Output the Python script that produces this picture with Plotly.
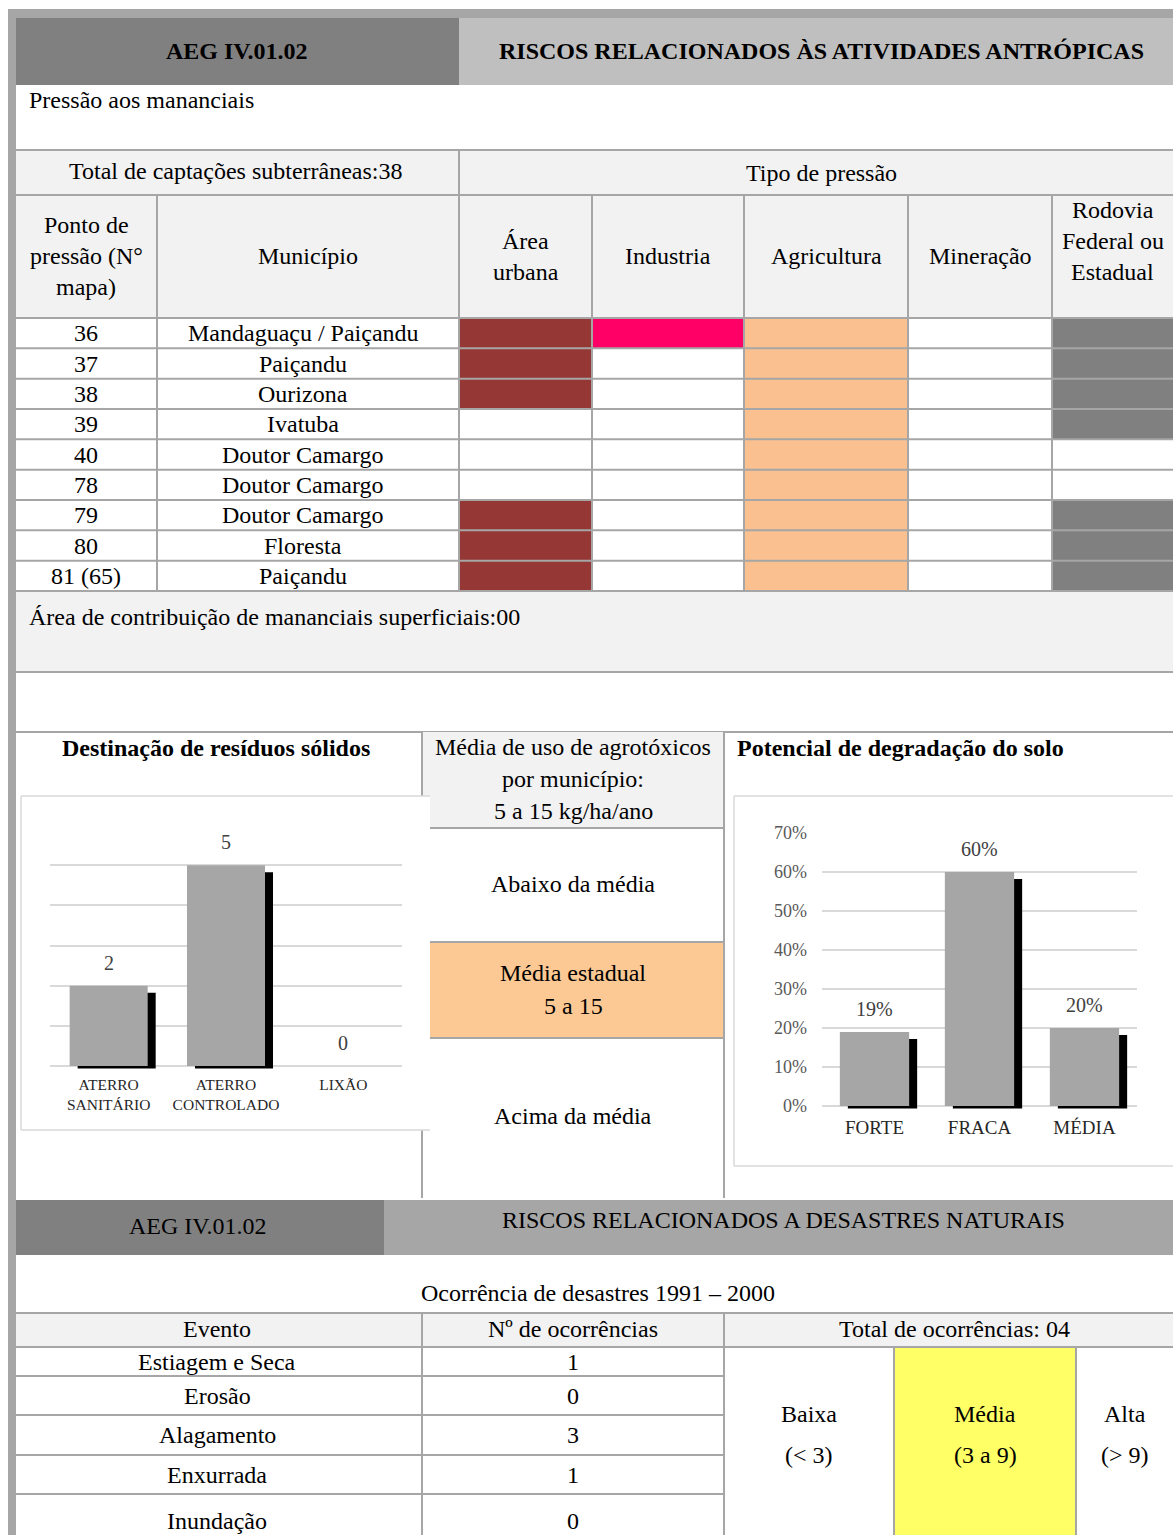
import plotly.graph_objects as go

W, H = 1173, 1535
FONT = "Liberation Serif"
LINE = "#a6a6a6"

# ---------------- data ----------------
pontos = ["36", "37", "38", "39", "40", "78", "79", "80", "81 (65)"]
municipios = ["Mandaguaçu / Paiçandu", "Paiçandu", "Ourizona", "Ivatuba", "Doutor Camargo",
              "Doutor Camargo", "Doutor Camargo", "Floresta", "Paiçandu"]
tipos_pressao = ["Área\nurbana", "Industria", "Agricultura", "Mineração", "Rodovia\nFederal ou\nEstadual"]
area_urbana = [1, 1, 1, 0, 0, 0, 1, 1, 1]
industria = [1, 0, 0, 0, 0, 0, 0, 0, 0]
agricultura = [1, 1, 1, 1, 1, 1, 1, 1, 1]
mineracao = [0, 0, 0, 0, 0, 0, 0, 0, 0]
rodovia = [1, 1, 1, 1, 0, 0, 1, 1, 1]
total_captacoes = "38"
area_contribuicao = "00"

residuos_cat = ["ATERRO<br>SANITÁRIO", "ATERRO<br>CONTROLADO", "LIXÃO"]
residuos_val = [2, 5, 0]

agrotoxicos_faixas = ["Abaixo da média", "Média estadual\n5 a 15", "Acima da média"]
agrotoxicos_nivel = 1  # faixa destacada

degradacao_cat = ["FORTE", "FRACA", "MÉDIA"]
degradacao_val = [0.19, 0.60, 0.20]

eventos = ["Estiagem e Seca", "Erosão", "Alagamento", "Enxurrada", "Inundação"]
ocorrencias = [1, 0, 3, 1, 0]
total_ocorrencias = "04"
classes = ["Baixa", "Média", "Alta"]
faixas = ["(< 3)", "(3 a 9)", "(> 9)"]
classe_atual = 1

# ---------------- helpers ----------------
shapes = []
notes = []


def box(x0, y0, x1, y1, fill):
    shapes.append(dict(type="rect", xref="x", yref="y", x0=x0, y0=y0, x1=x1, y1=y1,
                       fillcolor=fill, line=dict(width=0), layer="below"))


def seg(x0, y0, x1, y1, color=LINE, w=2):
    shapes.append(dict(type="line", xref="x", yref="y", x0=x0, y0=y0, x1=x1, y1=y1,
                       line=dict(color=color, width=w), layer="below"))


def text(x, y, s, size=24, bold=False, anchor="center", color="black", gap=31):
    lines = s.split("\n")
    y0 = y - gap * (len(lines) - 1) / 2
    for i, ln in enumerate(lines):
        notes.append(dict(xref="x", yref="y", x=x, y=y0 + i * gap, showarrow=False,
                          text=f"<b>{ln}</b>" if bold else ln, xanchor=anchor, yanchor="middle",
                          font=dict(family=FONT, size=size, color=color)))


def dom_x(a, b):
    return [a / W, b / W]


def dom_y(top, bottom):
    return [1 - bottom / H, 1 - top / H]


# ---------------- frame & header ----------------
box(8, 9, 16, H, "#a6a6a6")
box(8, 9, W, 18, "#a6a6a6")
box(16, 18, 459, 85, "#808080")
box(459, 18, W, 85, "#bfbfbf")
text(237, 51, "AEG IV.01.02", bold=True)
text(821, 51, "RISCOS RELACIONADOS ÀS ATIVIDADES ANTRÓPICAS", bold=True)
text(27, 100, "Pressão aos mananciais", anchor="left")

# ---------------- pressure table ----------------
col_x = [16, 157, 459, 592, 744, 908, 1052, W]
row_top, row_bot = 318, 591
row_h = (row_bot - row_top) / len(pontos)

box(16, 150, W, 318, "#f2f2f2")
text(236, 171, "Total de captações subterrâneas:" + total_captacoes)
text(821, 173, "Tipo de pressão")
text(86, 256, "Ponto de\npressão (N°\nmapa)")
text(308, 256, "Município")
for j, lab in enumerate(tipos_pressao):
    cy = 241 if lab.count("\n") == 2 else 256
    text((col_x[2 + j] + col_x[3 + j]) / 2, cy, lab)

cores = ["#953735", "#ff0066", "#fac090", "#808080", "#808080"]
flags = [area_urbana, industria, agricultura, mineracao, rodovia]
for j, (col, cor) in enumerate(zip(flags, cores)):
    for i, f in enumerate(col):
        if f:
            box(col_x[2 + j], row_top + i * row_h, col_x[3 + j], row_top + (i + 1) * row_h, cor)

for i, (p, m) in enumerate(zip(pontos, municipios)):
    cy = row_top + (i + 0.5) * row_h
    text(86, cy, p)
    text(303, cy, m)

box(16, row_bot, W, 672, "#f2f2f2")
text(27, 617, "Área de contribuição de mananciais superficiais:" + area_contribuicao, anchor="left")

for y in [150, 195, 318] + [row_top + i * row_h for i in range(1, len(pontos))] + [row_bot, 672, 732]:
    seg(16, y, W, y)
seg(459, 150, 459, 195)
for x in col_x[1:-1]:
    seg(x, 195, x, row_bot)

# ---------------- middle section ----------------
box(422, 732, 724, 828, "#f2f2f2")
mid_y = [828, 942, 1038, 1198]
box(422, mid_y[agrotoxicos_nivel], 724, mid_y[agrotoxicos_nivel + 1], "#fcc994")
for y in mid_y[:3]:
    seg(430, y, 724, y)
seg(422, 732, 422, 1198)
seg(724, 732, 724, 1198)

# chart boxes
box(21, 796, 430, 1130, "white")
seg(21, 796, 430, 796, "#d9d9d9", 1.5)
seg(21, 1130, 430, 1130, "#d9d9d9", 1.5)
seg(21, 796, 21, 1130, "#d9d9d9", 1.5)
box(734, 796, W, 1166, "white")
seg(734, 796, W, 796, "#d9d9d9", 1.5)
seg(734, 1166, W, 1166, "#d9d9d9", 1.5)
seg(734, 796, 734, 1166, "#d9d9d9", 1.5)

text(216, 748, "Destinação de resíduos sólidos", bold=True)
text(735, 748, "Potencial de degradação do solo", bold=True, anchor="left")
text(573, 779, "Média de uso de agrotóxicos\npor município:\n5 a 15 kg/ha/ano", gap=32)
text(573, 884, agrotoxicos_faixas[0])
text(573, 989, agrotoxicos_faixas[1], gap=33)
text(573, 1116, agrotoxicos_faixas[2])

# ---------------- bottom section ----------------
box(16, 1200, 384, 1255, "#808080")
box(384, 1200, W, 1255, "#a6a6a6")
text(198, 1226, "AEG IV.01.02")
text(783, 1220, "RISCOS RELACIONADOS A DESASTRES NATURAIS")
text(598, 1293, "Ocorrência de desastres 1991 – 2000")

box(16, 1313, W, 1347, "#f2f2f2")
text(217, 1329, "Evento")
text(573, 1329, "Nº de ocorrências")
text(954, 1329, "Total de ocorrências: " + total_ocorrencias)

ev_y = [1347, 1376, 1415, 1455, 1494, 1548]
for i, (ev, n) in enumerate(zip(eventos, ocorrencias)):
    cy = (ev_y[i] + ev_y[i + 1]) / 2
    text(217, cy, ev)
    text(573, cy, str(n))

cls_x = [724, 894, 1076, W]
box(cls_x[classe_atual], 1347, cls_x[classe_atual + 1], H, "#ffff66")
for k, (c, f) in enumerate(zip(classes, faixas)):
    cx = (cls_x[k] + cls_x[k + 1]) / 2
    text(cx, 1414, c)
    text(cx, 1455, f)

seg(16, 1313, W, 1313)
seg(16, 1347, W, 1347)
for y in ev_y[1:-1]:
    seg(16, y, 724, y)
for x in [422, 724]:
    seg(x, 1313, x, H)
for x in cls_x[1:3]:
    seg(x, 1347, x, H)

# ---------------- charts ----------------
fig = go.Figure()
fig.add_trace(go.Scatter(x=[], y=[], xaxis="x", yaxis="y", showlegend=False))


def shadow_bars(cats, vals, xa, ya, bw, k, unit_px):
    sh = 8 / unit_px
    heights = [v - 4.5 / k if v > 0 else 0 for v in vals]
    fig.add_trace(go.Bar(x=cats, y=heights, base=-2.5 / k, width=bw, offset=-bw / 2 + sh,
                         marker=dict(color="black", line=dict(width=0)), xaxis=xa, yaxis=ya,
                         showlegend=False, hoverinfo="skip"))
    fig.add_trace(go.Bar(x=cats, y=vals, width=bw, offset=-bw / 2,
                         marker=dict(color="#a6a6a6", line=dict(width=0)), xaxis=xa, yaxis=ya,
                         showlegend=False, hoverinfo="skip"))


# left chart: 0 at y=1066, 6 at y=825
k1 = (1066 - 825) / 6
shadow_bars(residuos_cat, residuos_val, "x2", "y2", 0.665, k1, (402 - 50) / 3)
for c, v in zip(residuos_cat, residuos_val):
    notes.append(dict(xref="x2", yref="y2", x=c, y=v, text=str(v), showarrow=False,
                      yanchor="middle", yshift=23, font=dict(family=FONT, size=20, color="#404040")))

# right chart: 0 at y=1106, 70% at y=833
k2 = (1106 - 833) / 0.7
shadow_bars(degradacao_cat, degradacao_val, "x3", "y3", 0.66, k2, (1137 - 822) / 3)
for c, v in zip(degradacao_cat, degradacao_val):
    notes.append(dict(xref="x3", yref="y3", x=c, y=v, text=f"{v:.0%}", showarrow=False,
                      yanchor="middle", yshift=23, font=dict(family=FONT, size=20, color="#404040")))

fig.update_layout(
    template="none",
    width=W, height=H, margin=dict(l=0, r=0, t=0, b=0, pad=0, autoexpand=False),
    paper_bgcolor="white", plot_bgcolor="rgba(0,0,0,0)",
    barmode="overlay", hovermode=False, showlegend=False,
    shapes=shapes, annotations=notes,
    xaxis=dict(range=[0, W], domain=[0, 1], visible=False, fixedrange=True, automargin=False),
    yaxis=dict(range=[H, 0], domain=[0, 1], visible=False, fixedrange=True, automargin=False),
    xaxis2=dict(domain=dom_x(50, 402), anchor="y2", range=[-0.5, 2.5], showgrid=False,
                showline=False, zeroline=False, ticks="", ticklabelstandoff=4, automargin=False,
                tickfont=dict(family=FONT, size=15.5, color="#262626")),
    yaxis2=dict(domain=dom_y(825, 1069), anchor="x2", range=[-3 / k1, 6], automargin=False,
                tick0=0, dtick=1, showticklabels=False, showgrid=True, gridcolor="#d9d9d9",
                gridwidth=1.5, zeroline=False, showline=False, ticks=""),
    xaxis3=dict(domain=dom_x(822, 1137), anchor="y3", range=[-0.5, 2.5], showgrid=False,
                showline=False, zeroline=False, ticks="", ticklabelstandoff=5, automargin=False,
                tickfont=dict(family=FONT, size=19, color="#262626")),
    yaxis3=dict(domain=dom_y(833, 1109), anchor="x3", range=[-3 / k2, 0.7], automargin=False,
                tick0=0, dtick=0.1, tickformat=".0%", showgrid=True, gridcolor="#d9d9d9",
                gridwidth=1.5, zeroline=False, showline=False, ticks="", ticklabelstandoff=14,
                tickfont=dict(family=FONT, size=18, color="#595959")),
)

fig.write_html("out.html", config={"displayModeBar": False},
               post_script="document.body.style.margin='0';")
